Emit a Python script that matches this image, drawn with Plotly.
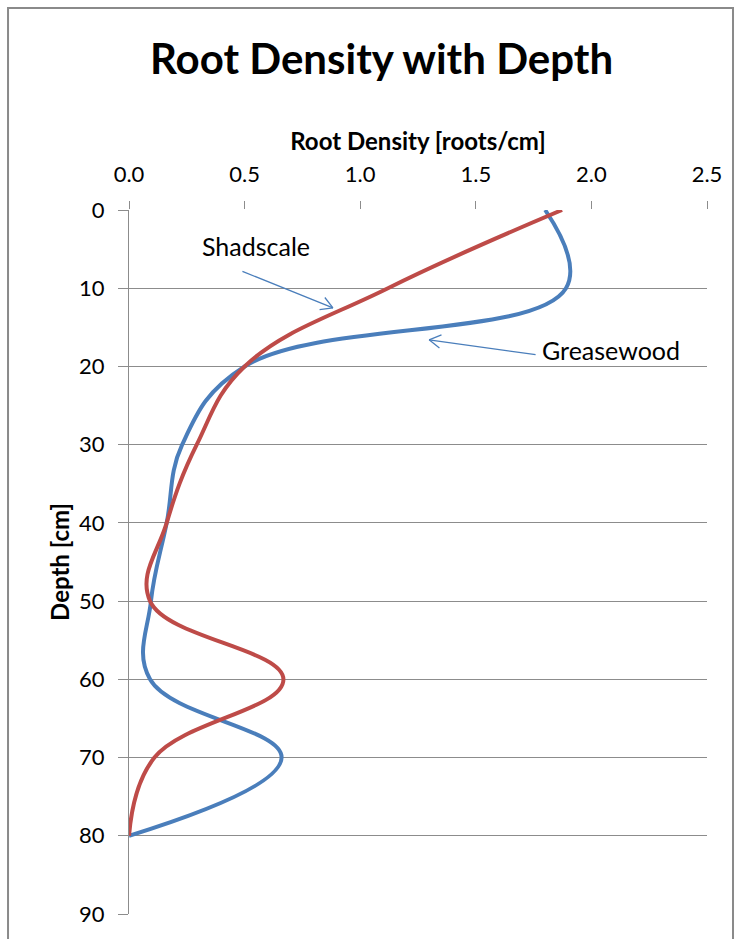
import numpy as np
import plotly.graph_objects as go

# Root density (roots/cm) sampled every 10 cm of depth
depth_cm = [0, 10, 20, 30, 40, 50, 60, 70, 80]
greasewood_density = [1.80, 1.89, 0.50, 0.23, 0.163, 0.095, 0.091, 0.66, 0.0]
shadscale_density = [1.873, 1.12, 0.50, 0.293, 0.163, 0.091, 0.668, 0.11, 0.0]

x_ticks = [0.0, 0.5, 1.0, 1.5, 2.0, 2.5]
y_ticks = [0, 10, 20, 30, 40, 50, 60, 70, 80, 90]

BLUE = "#4a7ebb"
RED = "#be4b48"
GRID = "#8c8c8c"
FONT = "Lato"
SMOOTH = 1.15

fig = go.Figure()
fig.add_trace(go.Scatter(x=greasewood_density, y=depth_cm, mode="lines",
                         name="Greasewood", line=dict(color=BLUE, width=4, shape="spline",
                                                       smoothing=SMOOTH)))
fig.add_trace(go.Scatter(x=shadscale_density, y=depth_cm, mode="lines",
                         name="Shadscale", line=dict(color=RED, width=4, shape="spline",
                                                      smoothing=SMOOTH)))


def open_arrow(x, y, dx, dy, head=15, spread=30):
    """Thin arrow with an open V head; tip at data point, tail offset (dx, dy) px."""
    style = dict(x=x, y=y, xref="x", yref="y", text="", showarrow=True, arrowhead=0,
                 arrowwidth=1.3, arrowcolor=BLUE, standoff=0)
    fig.add_annotation(ax=dx, ay=dy, **style)
    u = np.array([dx, dy], dtype=float)
    u /= np.hypot(*u)
    for s in (-1, 1):
        a = np.radians(spread) * s
        r = np.array([u[0] * np.cos(a) - u[1] * np.sin(a), u[0] * np.sin(a) + u[1] * np.cos(a)])
        fig.add_annotation(ax=float(r[0] * head), ay=float(r[1] * head), **style)


open_arrow(0.882, 12.5, -92, -37)
open_arrow(1.298, 16.6, 108, 15)

label_font = dict(family=FONT, size=25, color="#000000")
fig.add_annotation(x=0.55, y=4.6, xref="x", yref="y", text="Shadscale", showarrow=False,
                   font=label_font)
fig.add_annotation(x=2.085, y=17.9, xref="x", yref="y", text="Greasewood", showarrow=False,
                   font=label_font)

# Chart title and frame
fig.add_annotation(x=0.436, xref="paper", xanchor="center", y=1.2164, yref="paper",
                   yanchor="middle", text="<b>Root Density with Depth</b>",
                   showarrow=False, font=dict(family=FONT, size=42, color="#000000"))
fig.add_shape(type="rect", xref="paper", yref="paper", x0=-0.2093, x1=1.045, y0=-0.2, y1=1.287,
              line=dict(color="#8a8a8a", width=2), fillcolor="rgba(0,0,0,0)", layer="below")

fig.update_layout(
    width=741, height=939,
    margin=dict(l=129, r=34, t=210, b=22),
    paper_bgcolor="white", plot_bgcolor="white",
    showlegend=False,
    font=dict(family=FONT, size=22, color="#000000"),
    xaxis=dict(side="top", range=[0, 2.5], tickvals=x_ticks, tickformat=".1f",
               ticks="outside", ticklen=8, tickcolor=GRID, showgrid=False,
               showline=False, zeroline=False, ticklabelstandoff=10,
               title=dict(text="<b>Root Density [roots/cm]</b>", font=dict(family=FONT, size=24),
                          standoff=2)),
    yaxis=dict(range=[90, 0], tickvals=y_ticks, ticks="outside", ticklen=10, tickcolor=GRID,
               showgrid=True, gridcolor=GRID, gridwidth=1, showline=True, linecolor=GRID,
               linewidth=1, zeroline=False, ticklabelstandoff=9,
               title=dict(text="<b>Depth [cm]</b>", font=dict(family=FONT, size=24), standoff=2)),
)

fig.write_html("out.html")
